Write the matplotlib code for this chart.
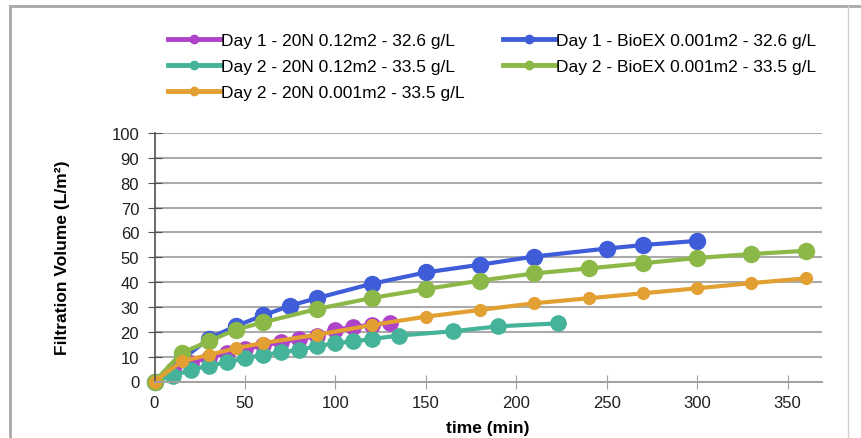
import matplotlib
matplotlib.use("Agg")
import matplotlib.pyplot as plt
from matplotlib.lines import Line2D

plt.rcParams["font.family"] = ["Liberation Sans", "DejaVu Sans"]

# ---- data ----
labels = [
    "Day 1 - 20N 0.12m2 - 32.6 g/L",
    "Day 1 - BioEX 0.001m2 - 32.6 g/L",
    "Day 2 - 20N 0.12m2 - 33.5 g/L",
    "Day 2 - BioEX 0.001m2 - 33.5 g/L",
    "Day 2 - 20N 0.001m2 - 33.5 g/L",
]

t_day1_20n = [0, 10, 20, 30, 40, 50, 60, 70, 80, 90, 100, 110, 120, 130]
v_day1_20n = [0, 4.5, 7.5, 9.5, 11.5, 13.0, 14.5, 15.8, 17.0, 18.3, 20.8, 22.0, 22.8, 23.6]

t_day1_bioex = [0, 30, 45, 60, 75, 90, 120, 150, 180, 210, 250, 270, 300]
v_day1_bioex = [0, 17.3, 22.3, 26.6, 30.5, 33.6, 39.3, 43.9, 47.0, 50.3, 53.5, 54.9, 56.6]

t_day2_20n = [0, 10, 20, 30, 40, 50, 60, 70, 80, 90, 100, 110, 120, 135, 165, 190, 223]
v_day2_20n = [0, 2.3, 4.6, 6.4, 7.7, 9.3, 10.7, 11.7, 12.8, 14.2, 15.4, 16.1, 17.1, 18.5, 20.2, 22.2, 23.4]

t_day2_bioex = [0, 15, 30, 45, 60, 90, 120, 150, 180, 210, 240, 270, 300, 330, 360]
v_day2_bioex = [0, 11.5, 16.2, 20.9, 23.8, 29.2, 33.6, 37.2, 40.6, 43.5, 45.5, 47.6, 49.7, 51.3, 52.6]

t_day2_20n_small = [0, 15, 30, 45, 60, 90, 120, 150, 180, 210, 240, 270, 300, 330, 360]
v_day2_20n_small = [0, 8.1, 10.7, 13.4, 15.5, 18.8, 22.7, 26.1, 28.8, 31.5, 33.5, 35.5, 37.5, 39.6, 41.5]

colors = ["#AE42C8", "#3F5DD8", "#45B39A", "#8CB847", "#E3A032"]
marker_sizes = [11, 11.5, 11, 11.5, 8.5]

series = [
    (t_day1_20n, v_day1_20n),
    (t_day1_bioex, v_day1_bioex),
    (t_day2_20n, v_day2_20n),
    (t_day2_bioex, v_day2_bioex),
    (t_day2_20n_small, v_day2_20n_small),
]

fig = plt.figure(figsize=(8.61, 4.39), dpi=100)
ax = fig.add_axes([154.5 / 861, 56.5 / 439, 667.5 / 861, 248.5 / 439])

for (t, v), c, ms in zip(series, colors, marker_sizes):
    ax.plot(t, v, color=c, lw=3, marker="o", ms=ms, mec=c, mfc=c, clip_on=False)

ax.set_xlim(0, 369)
ax.set_ylim(0, 100)
ax.set_xticks(range(0, 351, 50))
ax.set_yticks(range(0, 101, 10))
ax.yaxis.grid(True, color="#ababab", lw=1.5)
ax.set_axisbelow(True)
for s in ["top", "right"]:
    ax.spines[s].set_visible(False)
ax.spines["left"].set_color("#505050")
ax.spines["bottom"].set_color("#a0a0a0")
ax.spines["left"].set_linewidth(1.2)
ax.spines["bottom"].set_linewidth(1.4)
ax.tick_params(axis="y", direction="inout", length=10, color="#505050",
               labelsize=12, labelcolor="#202020", pad=6)
ax.tick_params(axis="x", direction="inout", length=10, color="#a0a0a0",
               labelsize=12, labelcolor="#202020", pad=5)

ax.set_xlabel("time (min)", fontsize=12.5, fontweight="bold", labelpad=7)
ax.set_ylabel("Filtration Volume (L/m\u00b2)", fontsize=12.5, fontweight="bold", labelpad=30)

# legend: column 1 = 20N series, column 2 = BioEX series
handles = [Line2D([], [], color=c, lw=3.5, marker="o", ms=6) for c in colors]
order = [0, 2, 4, 1, 3]
fig.legend([handles[i] for i in order], [labels[i] for i in order],
           ncol=2, loc="upper left", bbox_to_anchor=(168 / 861, 1 - 34 / 439),
           frameon=False, fontsize=12.5, handlelength=3.0, handletextpad=0.05,
           labelspacing=0.62, columnspacing=2.2, borderaxespad=0, borderpad=0)

# chart frame
fig.add_artist(Line2D([10 / 861, 10 / 861], [0, 1 - 7 / 439], color="#a8a8a8", lw=2))
fig.add_artist(Line2D([10 / 861, 1], [1 - 7 / 439, 1 - 7 / 439], color="#a8a8a8", lw=2))
fig.add_artist(Line2D([848 / 861, 848 / 861], [0, 1 - 7 / 439], color="#d0d0d0", lw=1))

fig.savefig("out.png", dpi=100)
